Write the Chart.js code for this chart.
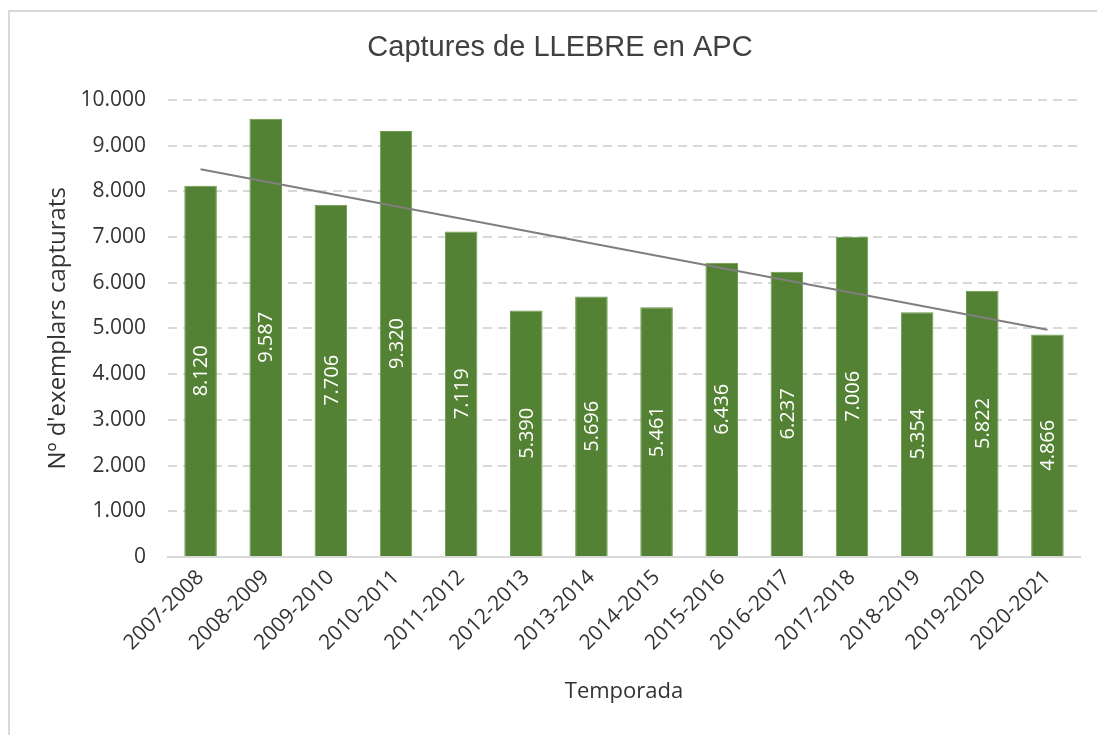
<!DOCTYPE html>
<html>
<head>
<meta charset="utf-8">
<script src="https://cdn.jsdelivr.net/npm/chart.js@4/dist/chart.umd.min.js"></script>
<style>
  html, body { margin: 0; padding: 0; background: #fff; }
  #frame { position: absolute; left: 8px; top: 10px; width: 1100px; height: 740px; border: 2px solid #d9d9d9; box-sizing: border-box; }
  #wrap { position: absolute; left: 0; top: 0; width: 1097px; height: 735px; }
</style>
</head>
<body>
<div id="frame"></div>
<div id="wrap"><canvas id="myChart"></canvas></div>
<script>
// data
var seasons = ['2007-2008', '2008-2009', '2009-2010', '2010-2011', '2011-2012', '2012-2013', '2013-2014',
               '2014-2015', '2015-2016', '2016-2017', '2017-2018', '2018-2019', '2019-2020', '2020-2021'];
var captures = [8120, 9587, 7706, 9320, 7119, 5390, 5696, 5461, 6436, 6237, 7006, 5354, 5822, 4866];
// linear trend line, end points as seen in the picture
var trend = [8480, null, null, null, null, null, null, null, null, null, null, null, null, 4970];

function fmt(v) {
    return String(v).replace(/\B(?=(\d{3})+(?!\d))/g, '.');
}

var font = "'Open Sans', 'Noto Sans', sans-serif";

// white rotated labels in the middle of each bar
var barLabels = {
    id: 'barLabels',
    afterDatasetsDraw: function (chart) {
        var ctx = chart.ctx;
        var meta = chart.getDatasetMeta(1);
        ctx.save();
        ctx.fillStyle = '#ffffff';
        ctx.font = '20px ' + font;
        ctx.textAlign = 'center';
        ctx.textBaseline = 'middle';
        meta.data.forEach(function (bar, i) {
            var cy = (bar.y + bar.base) / 2;
            ctx.save();
            ctx.translate(bar.x, cy);
            ctx.rotate(-Math.PI / 2);
            ctx.fillText(fmt(captures[i]), 0, 1);
            ctx.restore();
        });
        ctx.restore();
    }
};

var ctx = document.getElementById('myChart').getContext('2d');
var chart = new Chart(ctx, {
    type: 'bar',
    data: {
        labels: seasons,
        datasets: [{
            type: 'line',
            label: 'Tendència',
            data: trend,
            spanGaps: true,
            borderColor: '#7f7f7f',
            borderWidth: 2,
            pointRadius: 0,
            order: 0
        }, {
            label: 'Captures',
            data: captures,
            backgroundColor: '#548235',
            borderColor: '#6b9a4a',
            borderWidth: 1,
            barPercentage: 0.5,
            categoryPercentage: 1,
            order: 1
        }]
    },
    options: {
        responsive: true,
        maintainAspectRatio: false,
        animation: false,
        layout: { padding: { top: 20, right: 17, bottom: 26, left: 40 } },
        plugins: {
            legend: { display: false },
            tooltip: { enabled: false },
            title: {
                display: true,
                text: 'Captures de LLEBRE en APC',
                color: '#404040',
                font: { family: "'Liberation Sans', Arial, sans-serif", size: 29, weight: 'normal' },
                padding: { top: 11, bottom: 34 }
            }
        },
        scales: {
            x: {
                grid: { display: false, drawTicks: false },
                border: { color: '#d9d9d9', width: 2 },
                ticks: {
                    color: '#333333',
                    font: { family: font, size: 21 },
                    minRotation: 45,
                    maxRotation: 45,
                    autoSkip: false,
                    padding: 8
                },
                title: {
                    display: true,
                    text: 'Temporada',
                    color: '#333333',
                    font: { family: font, size: 22 },
                    padding: { top: 20 }
                },
                afterFit: function (scale) { scale.height = 152; }
            },
            y: {
                min: 0,
                max: 10000,
                grid: { color: '#d9d9d9', lineWidth: 2, drawTicks: false },
                border: { display: false, dash: [9, 6] },
                ticks: {
                    stepSize: 1000,
                    color: '#333333',
                    font: { family: font, size: 21 },
                    padding: 22,
                    callback: function (v) { return fmt(v); }
                },
                title: {
                    display: true,
                    text: "Nº d'exemplars capturats",
                    color: '#333333',
                    font: { family: font, size: 24 },
                    padding: { bottom: 4 }
                },
                afterFit: function (scale) { scale.width = 128; }
            }
        }
    },
    plugins: [barLabels]
});
</script>
</body>
</html>
